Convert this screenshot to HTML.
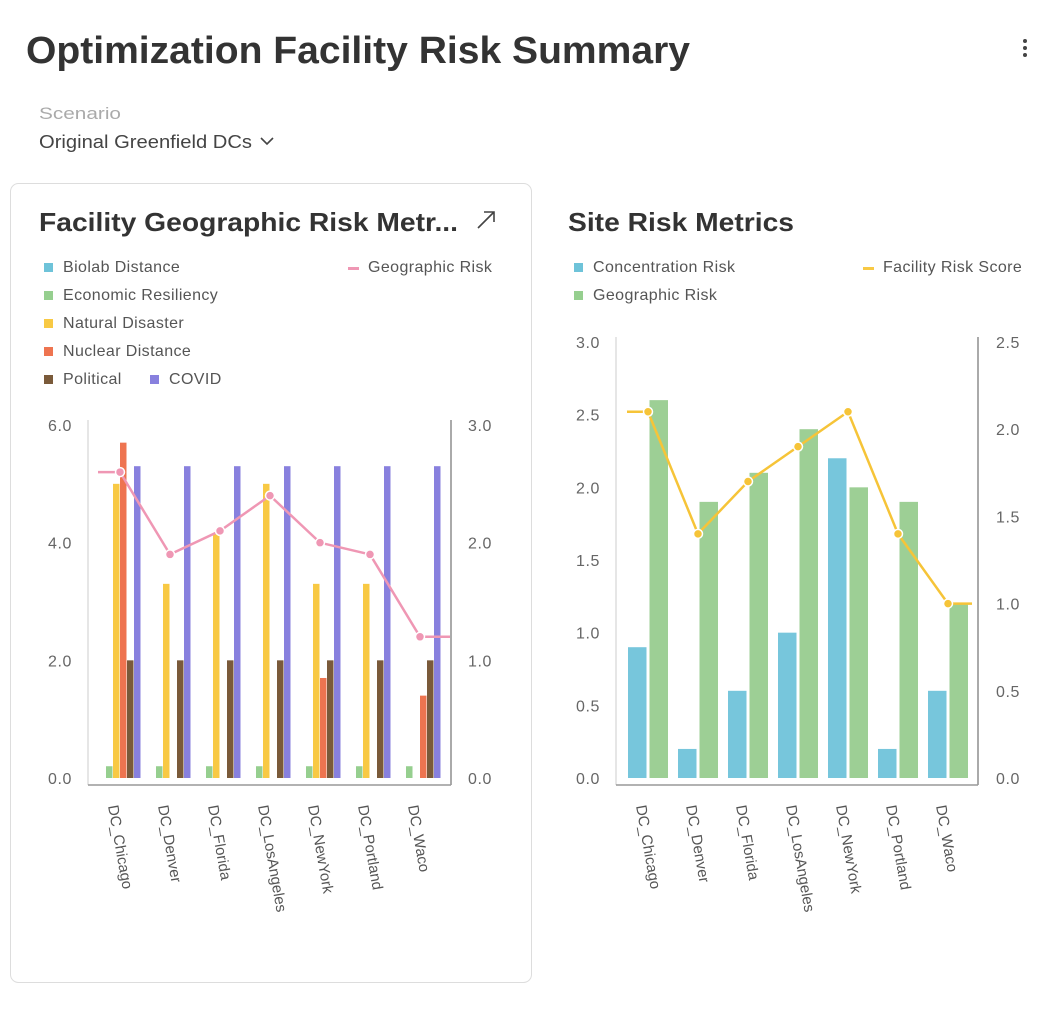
<!DOCTYPE html>
<html><head><meta charset="utf-8"><style>
body{margin:0;background:#fff;font-family:"Liberation Sans",sans-serif;}
svg text{font-family:"Liberation Sans",sans-serif;}
</style></head><body>
<svg id="s" width="1062" height="1012" xmlns="http://www.w3.org/2000/svg">
<text x="26" y="63" font-size="38" font-weight="bold" fill="#333" textLength="664" lengthAdjust="spacingAndGlyphs">Optimization Facility Risk Summary</text>
<g fill="#444"><circle cx="1025" cy="41" r="2"/><circle cx="1025" cy="48" r="2"/><circle cx="1025" cy="55" r="2"/></g>
<text x="39" y="119" font-size="17" fill="#aaa" textLength="82" lengthAdjust="spacingAndGlyphs">Scenario</text>
<g><text x="39" y="148" font-size="18" fill="#444" textLength="213" lengthAdjust="spacingAndGlyphs">Original Greenfield DCs</text><path d="M261 138 l6 6 l6 -6" stroke="#444" stroke-width="1.6" fill="none"/></g>
<rect x="10.5" y="183.5" width="521" height="799" rx="8" fill="#fff" stroke="#ddd"/>
<text x="39" y="231" font-size="26" font-weight="bold" fill="#333" textLength="419" lengthAdjust="spacingAndGlyphs">Facility Geographic Risk Metr...</text>
<g stroke="#444" stroke-width="1.6" fill="none"><path d="M478 228 L494 212 M484 212 L494 212 L494 222"/></g>
<text x="568" y="231" font-size="26" font-weight="bold" fill="#333" textLength="226" lengthAdjust="spacingAndGlyphs">Site Risk Metrics</text>
<g id="left"></g><g id="right"></g>
</svg>
<script>
const cats=["DC_Chicago","DC_Denver","DC_Florida","DC_LosAngeles","DC_NewYork","DC_Portland","DC_Waco"];
const biolab=[0,0,0,0,0,0,0];
const econ=[0.2,0.2,0.2,0.2,0.2,0.2,0.2];
const natural=[5.0,3.3,4.15,5.0,3.3,3.3,0];
const nuclear=[5.7,0,0,0,1.7,0,1.4];
const political=[2,2,2,2,2,2,2];
const covid=[5.3,5.3,5.3,5.3,5.3,5.3,5.3];
const geoRisk=[2.6,1.9,2.1,2.4,2.0,1.9,1.2];
const leftTicks=["0.0","2.0","4.0","6.0"];
const leftRTicks=["0.0","1.0","2.0","3.0"];
const concRisk=[0.9,0.2,0.6,1.0,2.2,0.2,0.6];
const siteGeo=[2.6,1.9,2.1,2.4,2.0,1.9,1.2];
const facScore=[2.1,1.4,1.7,1.9,2.1,1.4,1.0];
const rightTicks=["0.0","0.5","1.0","1.5","2.0","2.5","3.0"];
const rightRTicks=["0.0","0.5","1.0","1.5","2.0","2.5"];
const NS="http://www.w3.org/2000/svg";
function mk(p,t,a){const e=document.createElementNS(NS,t);for(const k in a)e.setAttribute(k,a[k]);p.appendChild(e);return e;}
function legendSq(g,x,y,c,l){const gg=mk(g,'g',{});


mk(gg,'rect',{x:x,y:y-8,width:9,height:9,fill:c});const t=mk(gg,'text',{x:x+19,y:y+1,'font-size':16,fill:'#555','letter-spacing':0.4});t.textContent=l;}
function legendLine(g,x,y,c,l){const gg=mk(g,'g',{});


mk(gg,'rect',{x:x,y:y-4,width:11,height:3,fill:c});const t=mk(gg,'text',{x:x+20,y:y+1,'font-size':16,fill:'#555','letter-spacing':0.4});t.textContent=l;}
function axes(g,x0,x1,y0,y1,ticksL,maxL,ticksR,maxR,lx,rx){
 const ly=v=>y0-(y0-y1)*v/maxL, ry=v=>y0-(y0-y1)*v/maxR;
 mk(g,'line',{x1:x0,y1:y1-5,x2:x0,y2:y0+7,stroke:'#ccc'});
 mk(g,'line',{x1:x1,y1:y1-5,x2:x1,y2:y0+7,stroke:'#aaa','stroke-width':2});
 mk(g,'line',{x1:x0,y1:y0+7,x2:x1,y2:y0+7,stroke:'#999','stroke-width':1.5});
 ticksL.forEach(s=>{const t=mk(g,'text',{x:lx,y:ly(parseFloat(s))+6,'font-size':16,fill:'#666','text-anchor':'end','letter-spacing':0.6});t.textContent=s;
 
 });
 ticksR.forEach(s=>{const t=mk(g,'text',{x:rx,y:ry(parseFloat(s))+6,'font-size':16,fill:'#666','letter-spacing':0.6});t.textContent=s;
 
 });
 return [ly,ry];}
function xlabels(g,cx){cats.forEach((c,i)=>{const x=cx(i)-12,y=806;const t=mk(g,'text',{x:x,y:y,'font-size':15,fill:'#555',transform:`rotate(80 ${x} ${y})`});t.textContent=c;
 
 });}
function line(g,vals,cx,ry,col,x0,x1){const pts=vals.map((v,i)=>[cx(i),ry(v)]);
 const d=`M${x0} ${pts[0][1]} `+pts.map(p=>`L${p[0]} ${p[1]}`).join(' ')+` L${x1} ${pts[pts.length-1][1]}`;
 const p=mk(g,'path',{d:d,stroke:col,'stroke-width':2.5,fill:'none'});
 
 
 pts.forEach(q=>{const c=mk(g,'circle',{cx:q[0],cy:q[1],r:4.5,fill:col,stroke:'#fff','stroke-width':1.5});
 
 });}
// left
(function(){const g=document.getElementById('left');
 legendSq(g,44,271,'#6ec3d9','Biolab Distance');legendSq(g,44,299,'#96cf8f','Economic Resiliency');legendSq(g,44,327,'#f8c944','Natural Disaster');legendSq(g,44,355,'#ee7450','Nuclear Distance');legendSq(g,44,383,'#7a5a3a','Political');legendSq(g,150,383,'#8880de','COVID');legendLine(g,348,271,'#ef97b4','Geographic Risk');
 const [ly,ry]=axes(g,88,451,778,425,leftTicks,6,leftRTicks,3,72,468);
 const cx=i=>120+i*50;
 const series=[[biolab,'#6ec3d9'],[econ,'#96cf8f'],[natural,'#f8c944'],[nuclear,'#ee7450'],[political,'#7a5a3a'],[covid,'#8880de']];
 series.forEach((s,k)=>s[0].forEach((v,i)=>{if(v<=0)return;const r=mk(g,'rect',{x:cx(i)-21+k*7,y:ly(v),width:6.5,height:778-ly(v),fill:s[1]});
 
 }));
 line(g,geoRisk,cx,ry,'#ef97b4',98,450);
 xlabels(g,cx);})();
// right
(function(){const g=document.getElementById('right');
 legendSq(g,574,271,'#6ec3d9','Concentration Risk');legendSq(g,574,299,'#96cf8f','Geographic Risk');legendLine(g,863,271,'#f8c944','Facility Risk Score');
 const [ly,ry]=axes(g,616,978,778,342,rightTicks,3,rightRTicks,2.5,600,996);
 const cx=i=>648+i*50;
 [[concRisk,'#77c6dc',-20],[siteGeo,'#9dcf95',1.5]].forEach(s=>s[0].forEach((v,i)=>{const r=mk(g,'rect',{x:cx(i)+s[2],y:ly(v),width:18.5,height:778-ly(v),fill:s[1]});
 
 }));
 line(g,facScore,cx,ry,'#f6c438',627,972);
 xlabels(g,cx);})();
</script>
</body></html>
